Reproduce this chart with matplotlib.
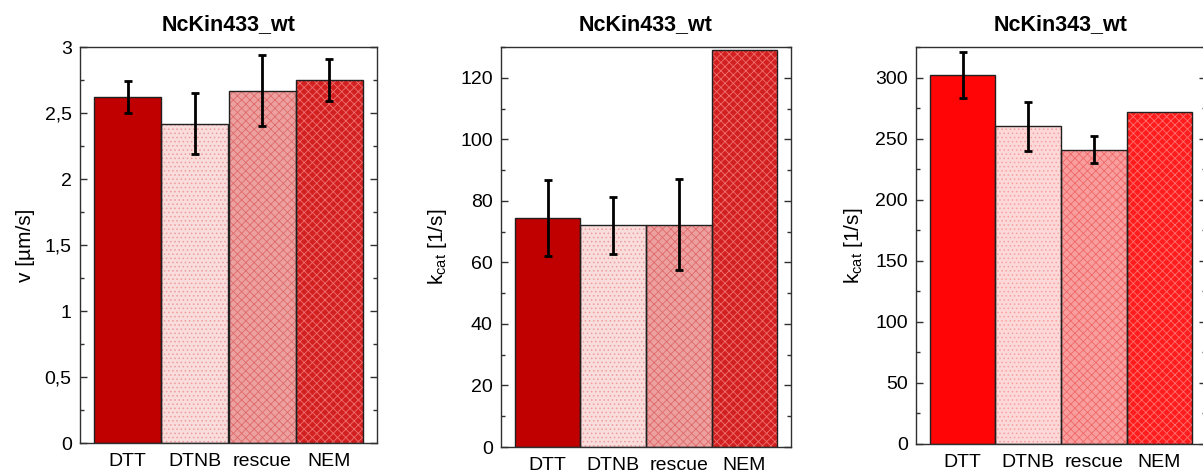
import matplotlib
matplotlib.use("Agg")
import matplotlib.pyplot as plt
from matplotlib.ticker import MultipleLocator, FuncFormatter

plt.rcParams['font.family'] = ['Liberation Sans', 'DejaVu Sans']
plt.rcParams['hatch.linewidth'] = 0.6

categories = ["DTT", "DTNB", "rescue", "NEM"]

titles = ["NcKin433_wt", "NcKin433_wt", "NcKin343_wt"]
ylabels = ["v [µm/s]", "k$_\\mathregular{cat}$ [1/s]", "k$_\\mathregular{cat}$ [1/s]"]

v_433 = [2.62, 2.42, 2.67, 2.75]
v_433_err = [0.12, 0.23, 0.27, 0.16]

kcat_433 = [74.4, 72.0, 72.3, 128.9]
kcat_433_err = [12.3, 9.4, 14.8, 0.0]

kcat_343 = [302, 260, 241, 272]
kcat_343_err = [19, 20, 11, 0]

ylims = [3.0, 130, 325]
major_steps = [0.5, 20, 50]
minor_steps = [0.25, 10, 25]

# fill colours (average tone) and hatch colours
fills_433 = ["#c00000", "#f9dcdc", "#eca0a0", "#d22020"]
hatch_433 = [None, "#ee9c9c", "#e06a6a", "#f07070"]
fills_343 = ["#ff0505", "#fcd8d8", "#f89e9e", "#ff1c1c"]
hatch_343 = [None, "#f8a0a0", "#f06868", "#ff7070"]
hatches = [None, "....", "xxxx", "xxxx"]

positions = [
    [80 / 1203, 32 / 475, 297 / 1203, 396 / 475],
    [501 / 1203, 28 / 475, 290 / 1203, 400 / 475],
    [916 / 1203, 31 / 475, 290 / 1203, 397 / 475],
]
label_x = [-0.153, -0.18, -0.177]

fig = plt.figure(figsize=(12.03, 4.75), dpi=100)

datasets = [
    (v_433, v_433_err, fills_433, hatch_433),
    (kcat_433, kcat_433_err, fills_433, hatch_433),
    (kcat_343, kcat_343_err, fills_343, hatch_343),
]

def comma_fmt(x, pos):
    s = "%g" % x
    return s.replace(".", ",")

for i, (vals, errs, fills, hcols) in enumerate(datasets):
    ax = fig.add_axes(positions[i])
    x = list(range(len(categories)))
    # base fill
    ax.bar(x, vals, width=1.0, color=fills, linewidth=0, zorder=2)
    # texture
    for j in range(len(categories)):
        if hatches[j] is not None:
            ax.bar(x[j], vals[j], width=1.0, color="none", edgecolor=hcols[j],
                   hatch=hatches[j], linewidth=0, zorder=2.5)
    # outline
    ax.bar(x, vals, width=1.0, color="none", edgecolor="#202020", linewidth=1.0, zorder=3)
    # error bars
    for j in range(len(categories)):
        if errs[j] > 0:
            ax.errorbar(x[j], vals[j], yerr=errs[j], fmt="none", ecolor="black",
                        elinewidth=2.0, capsize=2.6, capthick=2.0, zorder=4)
    ax.set_xlim(-0.71, 3.71)
    ax.set_ylim(0, ylims[i])
    ax.set_xticks(x)
    ax.set_xticklabels(categories, fontsize=14)
    ax.tick_params(axis="x", length=0, pad=7.5)
    ax.yaxis.set_major_locator(MultipleLocator(major_steps[i]))
    ax.yaxis.set_minor_locator(MultipleLocator(minor_steps[i]))
    ax.yaxis.set_major_formatter(FuncFormatter(comma_fmt))
    ax.tick_params(axis="y", which="both", direction="in", left=True, right=True,
                   labelsize=14, pad=6, color="#303030")
    ax.tick_params(axis="y", which="major", length=5, width=1.0)
    ax.tick_params(axis="y", which="minor", length=3, width=1.0)
    for sp in ax.spines.values():
        sp.set_linewidth(1.0)
        sp.set_color("#303030")
    ax.set_title(titles[i], fontsize=15.5, fontweight="bold", pad=12)
    ax.set_ylabel(ylabels[i], fontsize=15)
    ax.yaxis.set_label_coords(label_x[i], 0.5)

fig.savefig("out.png", dpi=100)
